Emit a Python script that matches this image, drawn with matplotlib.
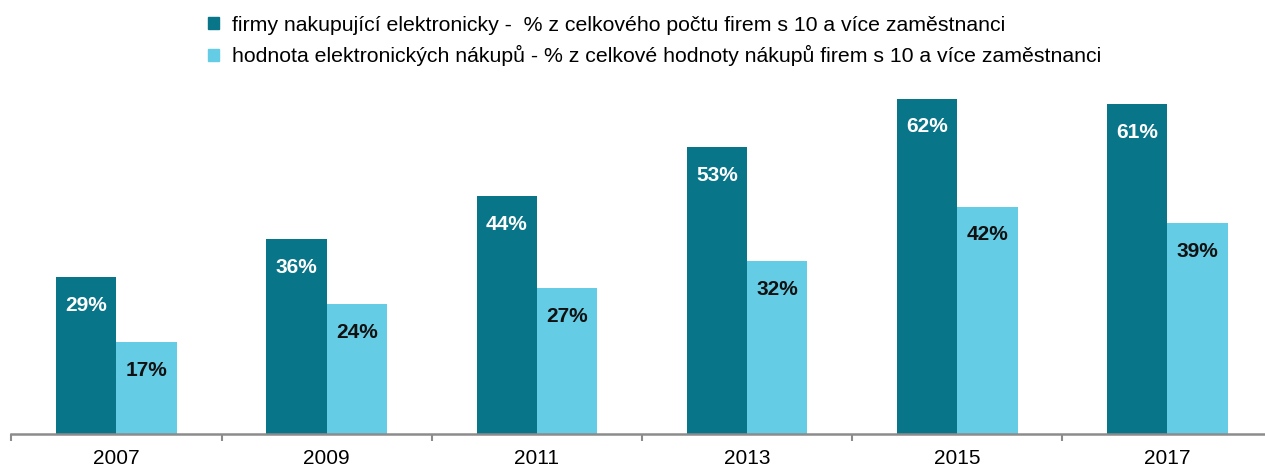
import matplotlib.pyplot as plt
from matplotlib.patches import Patch
import numpy as np

plt.rcParams["font.family"] = ["Liberation Sans", "DejaVu Sans"]

years = ["2007", "2009", "2011", "2013", "2015", "2017"]
firms_share = [29, 36, 44, 53, 62, 61]
value_share = [17, 24, 27, 32, 42, 39]
series_names = [
    "firmy nakupující elektronicky -  % z celkového počtu firem s 10 a více zaměstnanci",
    "hodnota elektronických nákupů - % z celkové hodnoty nákupů firem s 10 a více zaměstnanci",
]

dark = "#087589"
light = "#64CCE5"

# layout in pixels (1265 x 467 canvas)
left_px, cat_px = 11.4, 210.2

fig = plt.figure(figsize=(12.65, 4.67), dpi=100)
ax = fig.add_axes([left_px / 1265, 33 / 467, (1265 - left_px) / 1265, 354 / 467])

x = np.arange(len(years))
w = 0.287
b1 = ax.bar(x - w / 2, firms_share, w, color=dark)
b2 = ax.bar(x + w / 2, value_share, w, color=light)

for rect, v in zip(b1, firms_share):
    ax.text(rect.get_x() + rect.get_width() / 2, v - 5.2, f"{v}%",
            ha="center", va="center", color="white", fontsize=15, fontweight="bold")
for rect, v in zip(b2, value_share):
    ax.text(rect.get_x() + rect.get_width() / 2, v - 5.2, f"{v}%",
            ha="center", va="center", color="#111111", fontsize=15, fontweight="bold")

for s in ["top", "right", "left"]:
    ax.spines[s].set_visible(False)
ax.spines["bottom"].set_color("#8c8c8c")
ax.spines["bottom"].set_linewidth(1.8)
ax.set_yticks([])
ax.set_xticks(x)
ax.set_xticklabels(years, fontsize=15)
ax.tick_params(axis="x", which="major", length=0, pad=11)
ax.set_xticks(np.arange(-0.5, len(years) - 1, 1.0), minor=True)
ax.tick_params(axis="x", which="minor", length=5, width=1.5, color="#8c8c8c", direction="out")

ax.set_xlim(-0.5, -0.5 + (1265 - left_px) / cat_px)
ax.set_ylim(0, 354 / 5.41)

handles = [Patch(color=dark), Patch(color=light)]
fig.legend(handles, series_names, loc="upper left", bbox_to_anchor=(192 / 1265, 1.0),
           frameon=False, fontsize=15.3, handlelength=0.5, handleheight=0.5,
           handletextpad=0.64, labelspacing=0.48, borderaxespad=0.35)

fig.savefig("out.png", dpi=100)
